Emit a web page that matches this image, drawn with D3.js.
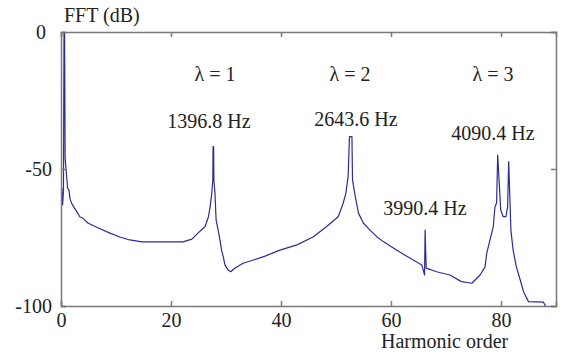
<!DOCTYPE html>
<html>
<head>
<meta charset="utf-8">
<script src="https://cdn.jsdelivr.net/npm/d3@7"></script>
<style>
  body { margin: 0; background: #fff; }
  text { font-family: "Liberation Serif", "Times New Roman", serif; fill: #222; }
</style>
</head>
<body>
<div id="chart-area"></div>
<script>
// Harmonic order (x) and FFT magnitude in dB (y)
const harmonic = [
    0, 0, 0.15, 0.3, 0.45, 0.55, 0.65, 0.75, 1.2, 1.45, 1.65, 2.05, 2.7, 3.45, 4.0, 4.9,
    6.2, 7.1, 8.9, 10.7, 12.5, 14.7, 22.2, 23.8, 24.9, 26.2, 26.8, 27.1, 27.4, 27.6,
    27.65, 27.75, 27.8, 28.0, 28.2, 28.8, 29.2, 29.5, 29.8, 30.4, 30.85, 31.6, 33.1,
    35, 37.1, 39.8, 42.9, 45.9, 48.3, 50.4, 51.3, 51.8, 52.2, 52.45, 52.9, 53.0, 53.5,
    54.1, 55, 56.2, 57.4, 58.6, 61, 63.5, 65.6, 66.1, 66.2, 66.4, 68.3, 70.7, 72.8,
    74.7, 76.2, 77.1, 77.4, 78, 78.6, 78.9, 79.2, 79.4, 79.95, 80.4, 80.9, 81.2, 81.4,
    81.8, 82.2, 82.8, 83.5, 84.1, 85, 87.7, 88.1
];
const fftDb = [
    -68, -63, -57, -63, -58, 0, 0, -46, -57, -57.7, -61, -63, -65, -67.5, -68, -69.7,
    -71, -71.8, -73.4, -74.8, -75.9, -76.6, -76.6, -75.6, -73.4, -71, -67.5, -64, -59, -54,
    -41.8, -41.8, -54, -59, -68.6, -74.7, -79.6, -82, -85, -86.9, -87.5, -86.2, -84.4,
    -83.2, -81.8, -79.6, -77.7, -74.7, -71, -67.4, -62.5, -58.8, -52.8, -38.2, -38.2, -54, -60,
    -66.2, -69.8, -72.3, -74.7, -76.5, -79.6, -82.6, -85, -88.7, -72.3, -86.2, -87.5, -88.7, -91.1,
    -91.7, -88.7, -85.7, -80.8, -75.9, -71, -63.8, -62.4, -44.9, -65, -67.4, -67.4, -63.8, -47.3,
    -72.3, -79.6, -85.7, -90.5, -94.8, -98.4, -98.6, -100
];

// Tick values
const xTicks = [0, 20, 40, 60, 80];
const yTicks = [0, -50, -100];

// Annotations
const annoText = ['λ = 1', 'λ = 2', 'λ = 3', '1396.8 Hz', '2643.6 Hz', '3990.4 Hz', '4090.4 Hz'];
const annoX = [215, 350, 493, 209, 356, 425, 493];
const annoY = [81, 81, 81, 128, 126, 215, 140];

const margin = { left: 61, right: 10, top: 32, bottom: 52 };
const width = 566 - margin.left - margin.right;
const height = 358 - margin.top - margin.bottom;

const svg = d3.select('#chart-area')
    .append('svg')
        .attr('width', 566)
        .attr('height', 358);

const g = svg.append('g')
    .attr('transform', 'translate(' + margin.left + ', ' + margin.top + ')');

// Scales
const x = d3.scaleLinear().domain([0, 90]).range([0, width]);
const y = d3.scaleLinear().domain([-100, 0]).range([height, 0]);

// Clip
svg.append('defs').append('clipPath')
    .attr('id', 'clip')
    .append('rect')
        .attr('width', width)
        .attr('height', height);

// Line
const data = harmonic.map((h, i) => ({ h: h, v: fftDb[i] }));
const line = d3.line()
    .x((d) => x(d.h))
    .y((d) => y(d.v));

g.append('path')
    .datum(data)
    .attr('clip-path', 'url(#clip)')
    .attr('fill', 'none')
    .attr('stroke', '#2a2d97')
    .attr('stroke-width', 1.2)
    .attr('stroke-linejoin', 'round')
    .attr('d', line);

// Axes
const fmt = (d) => String(d);
const xAxis = g.append('g')
    .attr('transform', 'translate(0, ' + height + ')')
    .call(d3.axisBottom(x).tickValues(xTicks).tickSize(-5).tickPadding(7).tickFormat(fmt));
const yAxis = g.append('g')
    .call(d3.axisLeft(y).tickValues(yTicks).tickSize(-5).tickPadding(9).tickFormat(fmt));
const xTop = g.append('g')
    .call(d3.axisTop(x).tickValues(xTicks).tickSize(-5).tickFormat(''));
const yRight = g.append('g')
    .attr('transform', 'translate(' + width + ', 0)')
    .call(d3.axisRight(y).tickValues(yTicks).tickSize(-5).tickFormat(''));

[xAxis, yAxis, xTop, yRight].forEach((a) => {
    a.selectAll('path, line').attr('stroke', '#7a7a7a').attr('stroke-width', 1.5);
    a.selectAll('text')
        .attr('font-size', '20px')
        .attr('font-family', '"Liberation Serif", "Times New Roman", serif')
        .attr('fill', '#222');
});

// "0" on the y axis sits a bit further left in the original
yAxis.selectAll('.tick text').filter((d) => d === 0).attr('dx', -6);

// Axis labels
svg.append('text')
    .attr('x', 64)
    .attr('y', 22)
    .attr('font-size', '20px')
    .text('FFT (dB)');

svg.append('text')
    .attr('x', 381)
    .attr('y', 348)
    .attr('font-size', '20px')
    .text('Harmonic order');

// Annotations
annoText.forEach((t, i) => {
    svg.append('text')
        .attr('x', annoX[i])
        .attr('y', annoY[i])
        .attr('font-size', '20px')
        .attr('text-anchor', 'middle')
        .text(t);
});
</script>
</body>
</html>
